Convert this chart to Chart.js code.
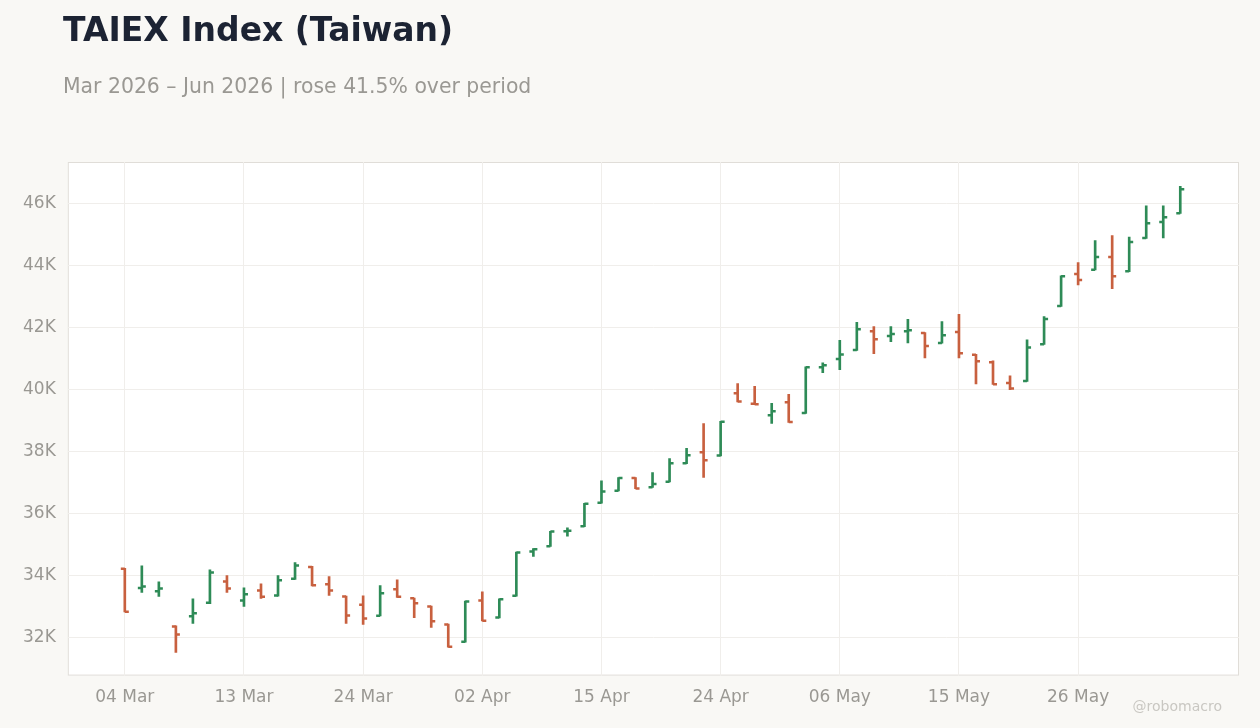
<!DOCTYPE html>
<html>
<head>
<meta charset="utf-8">
<script src="https://cdn.jsdelivr.net/npm/chart.js@4/dist/chart.umd.min.js"></script>
<style>
  html, body { margin: 0; padding: 0; background: #f9f8f5; }
  #wrap { position: relative; width: 1260px; height: 728px; font-family: "DejaVu Sans", sans-serif; }
  h1 { position: absolute; left: 63px; top: 10px; margin: 0; font-size: 33px; font-weight: 700; color: #1c2333; }
  .sub { position: absolute; left: 63px; top: 74px; font-size: 20.4px; color: #9a9893; }
  .mark { position: absolute; right: 38px; bottom: 14px; font-size: 14px; color: #c9c7c2; }
  canvas { position: absolute; left: 0; top: 0; }
</style>
</head>
<body>
<div id="wrap">
  <canvas id="grafica" width="1260" height="728"></canvas>
  <h1>TAIEX Index (Taiwan)</h1>
  <div class="sub">Mar 2026 – Jun 2026 | rose 41.5% over period</div>
  <div class="mark">@robomacro</div>
</div>
<script>
// etiquetas cada 7 sesiones
const tickLabels = ["04 Mar", "13 Mar", "24 Mar", "02 Apr", "15 Apr", "24 Apr", "06 May", "15 May", "26 May"];

const aperturas = [34226, 33600, 33500, 32365, 32690, 33130, 33815, 33200, 33525, 33365,
  33900, 34280, 33720, 33330, 33065, 32710, 33560, 33270, 33010, 32430,
  31870, 33200, 32650, 33350, 34780, 34950, 35430, 35590, 36350, 36740,
  37150, 36850, 37030, 37620, 37980, 37870, 39880, 39540, 39170, 39590,
  39240, 40720, 40980, 41270, 41880, 41720, 41880, 41820, 41500, 41850,
  41120, 40880, 40210, 40270, 41460, 42690, 43720, 43860, 44270, 43810,
  44880, 45400, 45680];
const maximos = [34240, 34320, 33800, 32380, 33250, 34190, 34000, 33610, 33740, 34000,
  34420, 34300, 33970, 33340, 33350, 33680, 33870, 33280, 33020, 32440,
  33180, 33480, 33250, 34760, 34870, 35430, 35540, 36330, 37060, 37160,
  37160, 37320, 37770, 38100, 38900, 38970, 40190, 40100, 39550, 39840,
  40730, 40860, 41580, 42160, 42030, 42030, 42260, 41830, 42190, 42420,
  41130, 40920, 40440, 41600, 42350, 43660, 44090, 44800, 44960, 44910,
  45920, 45920, 46550];
const minimos = [32830, 33460, 33330, 31525, 32460, 33100, 33460, 33010, 33270, 33340,
  33880, 33670, 33365, 32460, 32430, 32700, 33300, 32650, 32330, 31700,
  31860, 32540, 32640, 33340, 34620, 34940, 35270, 35580, 36340, 36730,
  36800, 36840, 37020, 37610, 37170, 37860, 39600, 39510, 38910, 38940,
  39230, 40540, 40640, 41260, 41150, 41540, 41500, 41020, 41490, 41020,
  40180, 40160, 39990, 40260, 41450, 42680, 43370, 43850, 43250, 43800,
  44870, 44880, 45670];
const cierres = [32839, 33650, 33590, 32105, 32790, 34100, 33590, 33400, 33320, 33850,
  34330, 33690, 33525, 32720, 32620, 33430, 33320, 33110, 32530, 31710,
  33170, 32550, 33240, 34750, 34850, 35420, 35450, 36320, 36710, 37150,
  36810, 36950, 37620, 37880, 37720, 38960, 39610, 39520, 39300, 38950,
  40720, 40780, 41130, 41940, 41620, 41790, 41910, 41400, 41750, 41170,
  40910, 40170, 40030, 41350, 42270, 43650, 43530, 44270, 43650, 44750,
  45360, 45550, 46450];

const VERDE = "#2e8b57";
const ROJO = "#c8603f";
const colores = aperturas.map((o, i) => cierres[i] >= o ? VERDE : ROJO);

const rangos = maximos.map((h, i) => ({ x: i, y: [minimos[i], h] }));

// ticks de apertura (izquierda) y cierre (derecha)
const ticksOC = {
  id: "ticksOC",
  afterDatasetsDraw(chart) {
    const ctx = chart.ctx;
    const xs = chart.scales.x, ys = chart.scales.y;
    ctx.save();
    ctx.lineWidth = 2.5;
    aperturas.forEach((o, i) => {
      const px = xs.getPixelForValue(i);
      ctx.strokeStyle = colores[i];
      ctx.beginPath();
      ctx.moveTo(px - 4, ys.getPixelForValue(o));
      ctx.lineTo(px, ys.getPixelForValue(o));
      ctx.moveTo(px, ys.getPixelForValue(cierres[i]));
      ctx.lineTo(px + 4, ys.getPixelForValue(cierres[i]));
      ctx.stroke();
    });
    ctx.restore();
  }
};

const fondoPlot = {
  id: "fondoPlot",
  beforeDraw(chart) {
    const { ctx, chartArea: a } = chart;
    ctx.save();
    ctx.fillStyle = "#ffffff";
    ctx.fillRect(a.left, a.top, a.right - a.left, a.bottom - a.top);
    ctx.strokeStyle = "#e0ddd8";
    ctx.lineWidth = 1;
    ctx.strokeRect(a.left + 0.5, a.top + 0.5, a.right - a.left - 1, a.bottom - a.top - 1);
    ctx.restore();
  }
};

new Chart(document.getElementById("grafica"), {
  type: "bar",
  data: {
    datasets: [{
      data: rangos,
      backgroundColor: colores,
      borderWidth: 0,
      barThickness: 2
    }]
  },
  plugins: [fondoPlot, ticksOC],
  options: {
    responsive: false,
    animation: false,
    layout: { padding: { left: 11, right: 21, top: 162, bottom: 8 } },
    plugins: { legend: { display: false }, tooltip: { enabled: false } },
    scales: {
      x: {
        type: "linear",
        offset: false,
        min: -3.35,
        max: 65.45,
        afterBuildTicks: axis => { axis.ticks = tickLabels.map((_, k) => ({ value: k * 7 })); },
        ticks: {
          callback: v => tickLabels[v / 7],
          color: "#9a9893",
          font: { size: 17, family: "DejaVu Sans" },
          padding: 12
        },
        grid: { color: "#f0eeeb", drawTicks: false, offset: false },
        border: { display: false }
      },
      y: {
        min: 30780,
        max: 47330,
        afterBuildTicks: axis => {
          const t = [];
          for (let v = 32000; v <= 46000; v += 2000) t.push({ value: v });
          axis.ticks = t;
        },
        ticks: {
          callback: v => (v / 1000) + "K",
          color: "#9a9893",
          font: { size: 17, family: "DejaVu Sans" },
          padding: 12
        },
        grid: { color: "#f0eeeb", drawTicks: false },
        border: { display: false }
      }
    }
  }
});
</script>
</body>
</html>
